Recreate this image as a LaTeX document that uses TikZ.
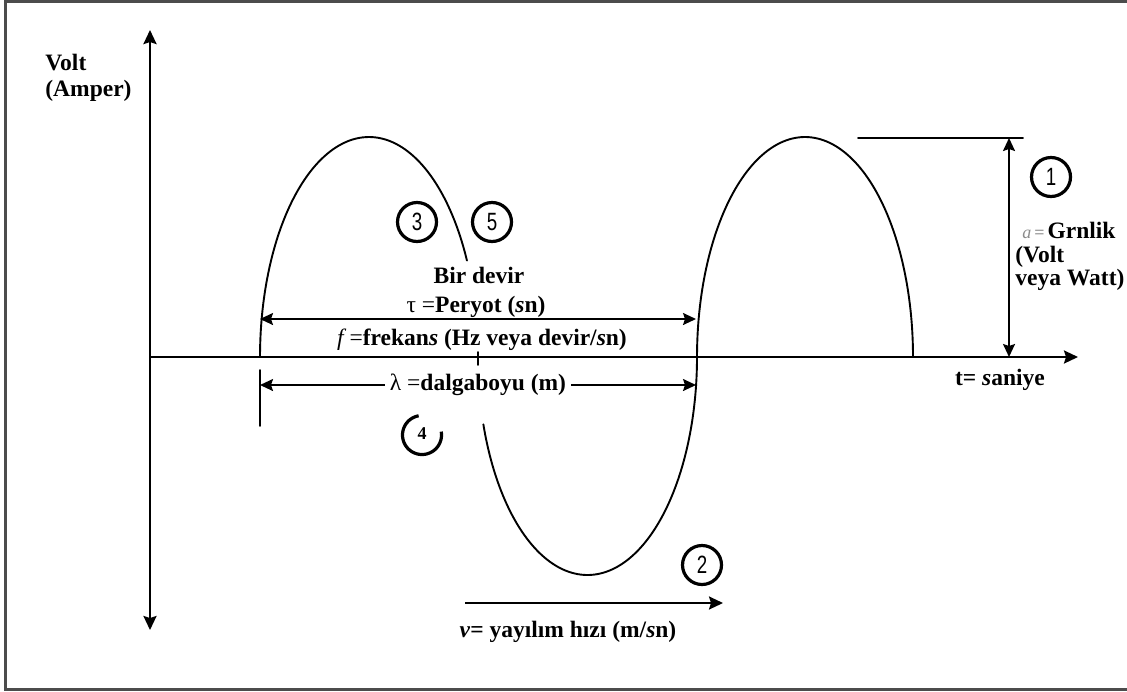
\documentclass[tikz,border=0pt]{standalone}
\usepackage{fontspec}
\usepackage{graphicx}
\setmainfont{Liberation Serif}
\newfontfamily\digitfont{Liberation Sans}
\usetikzlibrary{arrows.meta}
\begin{document}
\begin{tikzpicture}[x=0.5pt,y=-0.5pt,
  lbl/.style={font=\bfseries\fontsize{11.75}{11.75}\selectfont, inner sep=0pt},
  tipa/.tip={Stealth[length=7pt,width=6.5pt,inset=1pt]},
  tipd/.tip={Stealth[length=6.5pt,width=6pt,inset=1pt]},
  axisone/.style={line width=1.2pt, -tipa},
  axistwo/.style={line width=1.2pt, tipa-tipa},
  dimline/.style={line width=0.9pt, tipd-tipd},
  wave/.style={line width=0.95pt, line cap=round},
  num/.style={circle, draw, line width=1.6pt, minimum size=19.5pt, inner sep=0pt, font=\digitfont\fontsize{12.5}{12.5}\selectfont},
  frame/.style={line width=1.4pt, draw=black!70}
]
\useasboundingbox (0,0) rectangle (1127,691);
% frame
\draw[frame] (1127,1.2) -- (5.3,1.2) -- (5.3,689.5) -- (1127,689.5);

% axes
\coordinate (vtop) at (150,30);
\coordinate (vbot) at (150,630);
\coordinate (orig) at (150,357);
\coordinate (tend) at (1078,357);
\draw[axistwo] (vbot) -- (vtop);
\draw[axisone] (orig) -- (tend);

% wave
\draw[wave] plot[domain=180:26, samples=90, variable=\t] ({369+109*cos(\t)},{357-220*sin(\t)});
\draw[wave] plot[domain=198:360, samples=110, variable=\t] ({587.5+109.5*cos(\t)},{357-218*sin(\t)});
\draw[wave] plot[domain=180:0, samples=120, variable=\t] ({805+108*cos(\t)},{357-220*sin(\t)});

% period / wavelength markers
\coordinate (pL) at (260,319);
\coordinate (pR) at (696,319);
\coordinate (lL) at (260,385);
\coordinate (lR) at (696,385);
\coordinate (tickA) at (260,370);
\coordinate (tickB) at (260,426);
\coordinate (midA) at (478,352);
\coordinate (midB) at (478,365);
\draw[dimline] (pL) -- (pR);
\draw[dimline] (lL) -- (lR);
\draw[wave] (tickA) -- (tickB);
\draw[wave] (midA) -- (midB);

% amplitude
\coordinate (ampA) at (858,138);
\coordinate (ampB) at (1023,138);
\coordinate (ampTop) at (1009,138);
\coordinate (ampBot) at (1009,357);
\draw[wave] (ampA) -- (ampB);
\draw[dimline] (ampBot) -- (ampTop);

% speed arrow
\coordinate (vA) at (465,603);
\coordinate (vB) at (723,603);
\draw[line width=1.1pt, -tipa] (vA) -- (vB);

% labels
\node[lbl, anchor=base west] (volt) at (45,70) {Volt};
\node[lbl, anchor=base west] (amper) at (45,96) {(Amper)};
\node[lbl, anchor=base] (bir) at (479,283) {Bir devir};
\node[lbl, anchor=base] (per) at (476,312) {{\mdseries τ =}Peryot (\textit{s}n)};
\node[lbl, anchor=base] (frek) at (482,345) {{\mdseries\itshape f} {\mdseries =}frekan\textit{s} (Hz veya devir/\textit{s}n)};
\node[lbl, anchor=base, fill=white, inner xsep=2.5pt] (lam) at (478,390) {{\mdseries λ =}dalgaboyu (m)};
\node[lbl, anchor=base] (tsan) at (1000,385) {t= \textit{s}aniye};
\node[lbl, anchor=base] (hiz) at (568,637) {\textit{v}= yayılım hızı (m/\textit{s}n)};
\node[lbl, anchor=base west] (gen) at (1022,238) {{\color{black!45}\mdseries\itshape\fontsize{9}{9}\selectfont a}{\color{black!55}\mdseries\fontsize{9}{9}\selectfont\,=\,}Grnlik};
\node[lbl, anchor=base west] (gv) at (1015,262) {(Volt};
\node[lbl, anchor=base west] (gw) at (1015,285) {veya Watt)};

% numbered circles
\node[num] (c1) at (1051,177) {\scalebox{0.75}[1]{1}};
\node[num] (c2) at (702,565) {\scalebox{0.75}[1]{2}};
\node[num] (c3) at (417,222) {\scalebox{0.75}[1]{3}};
\node[num] (c5) at (492,222) {\scalebox{0.75}[1]{5}};
\node[inner sep=0pt, font=\bfseries\fontsize{9}{9}\selectfont] (c4) at (422,434) {4};
\draw[line width=1.6pt] plot[domain=100:370, samples=60, variable=\t] ({422+19.5*cos(\t)},{435-19.5*sin(\t)});
\end{tikzpicture}
\end{document}
